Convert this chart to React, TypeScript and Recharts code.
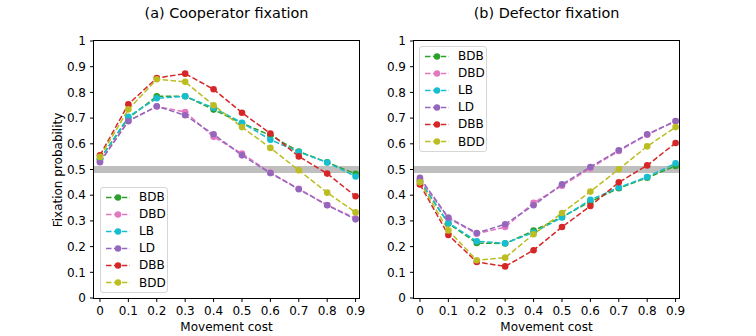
import { LineChart, Line, XAxis, YAxis, ReferenceLine } from 'recharts';

const costs = [0, 0.1, 0.2, 0.3, 0.4, 0.5, 0.6, 0.7, 0.8, 0.9];
const yTicks = [0, 0.1, 0.2, 0.3, 0.4, 0.5, 0.6, 0.7, 0.8, 0.9, 1];

// (a) cooperator fixation
const coopBDB = [0.54, 0.7, 0.785, 0.785, 0.733, 0.68, 0.633, 0.57, 0.528, 0.483];
const coopDBD = [0.53, 0.69, 0.745, 0.724, 0.627, 0.562, 0.488, 0.425, 0.362, 0.31];
const coopLB = [0.54, 0.705, 0.777, 0.785, 0.74, 0.682, 0.616, 0.568, 0.527, 0.473];
const coopLD = [0.528, 0.688, 0.746, 0.711, 0.637, 0.555, 0.486, 0.423, 0.361, 0.306];
const coopDBB = [0.555, 0.754, 0.856, 0.873, 0.812, 0.721, 0.64, 0.551, 0.484, 0.396];
const coopBDD = [0.549, 0.734, 0.851, 0.841, 0.75, 0.665, 0.584, 0.497, 0.41, 0.333];

// (b) defector fixation
const defBDB = [0.455, 0.29, 0.214, 0.212, 0.262, 0.315, 0.375, 0.427, 0.468, 0.514];
const defDBD = [0.462, 0.31, 0.25, 0.276, 0.37, 0.437, 0.505, 0.572, 0.635, 0.688];
const defLB = [0.455, 0.292, 0.221, 0.213, 0.255, 0.313, 0.382, 0.43, 0.471, 0.524];
const defLD = [0.468, 0.313, 0.253, 0.287, 0.361, 0.442, 0.51, 0.575, 0.637, 0.689];
const defDBB = [0.442, 0.245, 0.14, 0.123, 0.186, 0.276, 0.358, 0.45, 0.516, 0.603];
const defBDD = [0.45, 0.263, 0.147, 0.157, 0.248, 0.331, 0.414, 0.501, 0.59, 0.665];

const seriesNames = ['BDB', 'DBD', 'LB', 'LD', 'DBB', 'BDD'];
const seriesColors = ['#2ca02c', '#e377c2', '#17becf', '#9467bd', '#d62728', '#bcbd22'];

const FONT = '"DejaVu Sans", sans-serif';
const SMALL = 12;

function buildRows(cols: number[][]) {
  return costs.map((c, i) => {
    const row: Record<string, number> = { cost: c };
    seriesNames.forEach((name, k) => {
      row[name] = cols[k][i];
    });
    return row;
  });
}

const coopRows = buildRows([coopBDB, coopDBD, coopLB, coopLD, coopDBB, coopBDD]);
const defRows = buildRows([defBDB, defDBD, defLB, defLD, defDBB, defBDD]);

function LegendBox({ left, top }: { left: number; top: number }) {
  return (
    <div
      style={{
        position: 'absolute',
        left,
        top,
        width: 68,
        height: 106,
        boxSizing: 'border-box',
        border: '1px solid #d6d6d6',
        borderRadius: 3,
        background: 'rgba(255,255,255,0.8)',
        fontFamily: FONT,
        fontSize: SMALL,
      }}
    >
      {seriesNames.map((name, k) => (
        <div
          key={name}
          style={{ position: 'absolute', left: 0, top: 9 + k * 17.1 - 8.5, height: 17, display: 'flex', alignItems: 'center' }}
        >
          <svg width={24} height={17} style={{ marginLeft: 5 }}>
            <line x1={0} x2={24} y1={8.5} y2={8.5} stroke={seriesColors[k]} strokeWidth={1.5} strokeDasharray="5.5 2.4" />
            <circle cx={12} cy={8.5} r={3.2} fill={seriesColors[k]} />
          </svg>
          <span style={{ marginLeft: 9, color: '#000' }}>{name}</span>
        </div>
      ))}
    </div>
  );
}

function Panel({ rows, left, marginLeft, marginRight }: { rows: Record<string, number>[]; left: number; marginLeft: number; marginRight: number }) {
  return (
    <div style={{ position: 'absolute', left, top: 0, width: 378, height: 336 }}>
      <LineChart width={378} height={336} data={rows} margin={{ top: 41, right: marginRight, bottom: 8, left: marginLeft }}>
        <XAxis
          dataKey="cost"
          type="number"
          domain={[-0.021, 0.912]}
          ticks={costs}
          tickFormatter={(v: number) => String(v)}
          axisLine={false}
          tickSize={4}
          tickMargin={4}
          height={30}
          tick={{ fill: '#000', fontSize: SMALL, fontFamily: FONT }}
          tickLine={{ stroke: '#000' }}
          interval={0}
          allowDataOverflow
        />
        <YAxis
          type="number"
          domain={[0, 1]}
          ticks={yTicks}
          tickFormatter={(v: number) => String(v)}
          axisLine={false}
          tickSize={4}
          tickMargin={4}
          width={30}
          tick={{ fill: '#000', fontSize: SMALL, fontFamily: FONT }}
          tickLine={{ stroke: '#000' }}
          interval={0}
        />
        <ReferenceLine y={0.5} stroke="#bfbfbf" strokeWidth={7} />
        {seriesNames.map((name, k) => (
          <Line
            key={name}
            dataKey={name}
            type="linear"
            stroke={seriesColors[k]}
            strokeWidth={1.5}
            strokeDasharray="5.5 2.4"
            dot={{ r: 3.3, fill: seriesColors[k], stroke: seriesColors[k], strokeWidth: 0 }}
            activeDot={false}
            isAnimationActive={false}
          />
        ))}
      </LineChart>
    </div>
  );
}

export default function App() {
  const label: React.CSSProperties = { position: 'absolute', fontFamily: FONT, color: '#000', whiteSpace: 'nowrap' };
  return (
    <div style={{ position: 'absolute', left: 0, top: 0, width: 756, height: 336, background: '#fff', overflow: 'hidden' }}>
      <Panel rows={coopRows} left={0} marginLeft={64} marginRight={19} />
      <Panel rows={defRows} left={378} marginLeft={6} marginRight={77} />
      {/* frames */}
      <div style={{ position: 'absolute', left: 93, top: 40, width: 267, height: 259, boxSizing: 'border-box', border: '1px solid #000' }} />
      <div style={{ position: 'absolute', left: 413, top: 40, width: 267, height: 259, boxSizing: 'border-box', border: '1px solid #000' }} />
      <LegendBox left={100} top={187} />
      <LegendBox left={419} top={46} />
      <div style={{ ...label, left: 226.5, top: 13, fontSize: 14.4, transform: 'translate(-50%, -50%)' }}>(a) Cooperator fixation</div>
      <div style={{ ...label, left: 546.5, top: 13, fontSize: 14.4, transform: 'translate(-50%, -50%)' }}>(b) Defector fixation</div>
      <div style={{ ...label, left: 226.5, top: 327, fontSize: SMALL, transform: 'translate(-50%, -50%)' }}>Movement cost</div>
      <div style={{ ...label, left: 546.5, top: 327, fontSize: SMALL, transform: 'translate(-50%, -50%)' }}>Movement cost</div>
      <div style={{ ...label, left: 58, top: 169.5, fontSize: SMALL, transform: 'translate(-50%, -50%) rotate(-90deg)' }}>Fixation probability</div>
    </div>
  );
}
